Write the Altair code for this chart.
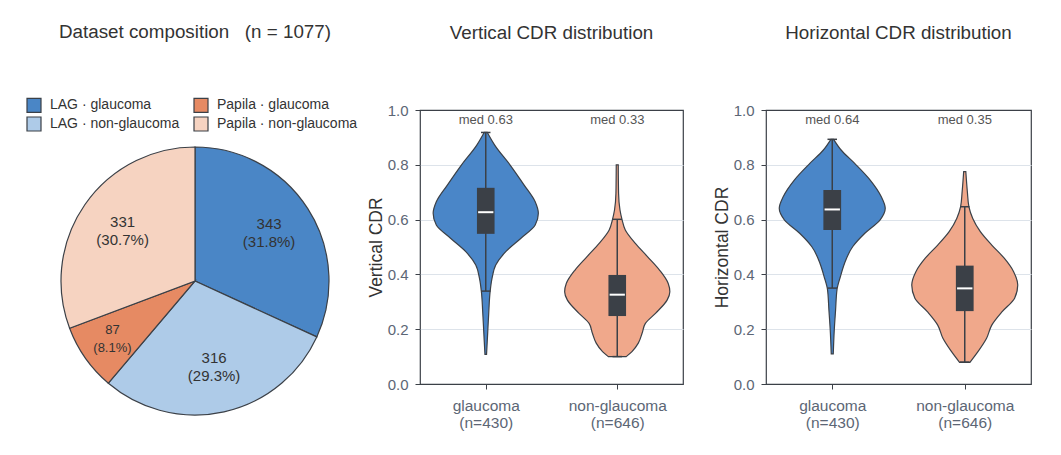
import json
import altair as alt
import pandas as pd

# ---------------- data ----------------
pie_source = ["LAG", "LAG", "Papila", "Papila"]
pie_class = ["glaucoma", "non-glaucoma", "glaucoma", "non-glaucoma"]
pie_count = [343, 316, 87, 331]
pie_colors = ["#4a86c6", "#aecbe8", "#e68a63", "#f6d3c1"]

groups = ["glaucoma", "non-glaucoma"]
group_n = [430, 646]
group_colors = ["#4a86c8", "#f0a88b"]

# violin outlines: CDR value -> relative density (1 = widest point)
vcdr_glau_v = [0.918, 0.872, 0.80, 0.726, 0.665, 0.623, 0.58, 0.532, 0.483, 0.434, 0.386, 0.337, 0.264, 0.191, 0.108]
vcdr_glau_d = [0.03, 0.17, 0.46, 0.73, 0.94, 1.0, 0.94, 0.67, 0.38, 0.19, 0.12, 0.083, 0.058, 0.038, 0.015]
vcdr_non_v = [0.80, 0.696, 0.635, 0.601, 0.562, 0.513, 0.465, 0.416, 0.367, 0.337, 0.307, 0.258, 0.221, 0.185, 0.149, 0.118, 0.10]
vcdr_non_d = [0.019, 0.025, 0.052, 0.09, 0.153, 0.344, 0.574, 0.803, 0.969, 1.0, 0.95, 0.727, 0.535, 0.472, 0.40, 0.28, 0.17]
hcdr_glau_v = [0.893, 0.854, 0.805, 0.745, 0.684, 0.641, 0.599, 0.55, 0.501, 0.44, 0.392, 0.345, 0.27, 0.197, 0.11]
hcdr_glau_d = [0.025, 0.167, 0.423, 0.712, 0.923, 1.0, 0.904, 0.615, 0.385, 0.231, 0.154, 0.09, 0.063, 0.038, 0.019]
hcdr_non_v = [0.775, 0.702, 0.647, 0.604, 0.556, 0.507, 0.459, 0.41, 0.361, 0.313, 0.264, 0.215, 0.167, 0.118, 0.079]
hcdr_non_d = [0.02, 0.049, 0.078, 0.151, 0.294, 0.51, 0.745, 0.922, 1.0, 0.941, 0.706, 0.51, 0.412, 0.249, 0.098]

# box statistics: [lower whisker, q1, median, q3, upper whisker] per group
vcdr_box = [[0.339, 0.548, 0.627, 0.716, 0.918], [0.10, 0.248, 0.326, 0.398, 0.601]]
hcdr_box = [[0.35, 0.562, 0.637, 0.708, 0.893], [0.08, 0.266, 0.349, 0.432, 0.647]]

# ---------------- style ----------------
FONT = "Liberation Sans"
DARK = "#3b4047"
TEXT = "#333333"
TICKLAB = "#5c6675"
GRID = "#dde3ea"

# ---------------- pie ----------------
keys = [f"{s} \u00b7 {c}" for s, c in zip(pie_source, pie_class)]
pie_df = pd.DataFrame({"key": keys, "count": pie_count, "idx": list(range(len(keys)))})
total = sum(pie_count)

pie_base = alt.Chart(pie_df).transform_joinaggregate(
    total="sum(count)"
).transform_stack(
    stack="count", as_=["s0", "s1"], groupby=[], sort=[alt.SortField("idx", order="ascending")]
).transform_calculate(
    mid="(datum.s0 + datum.s1) / 2",
    label="datum.count + '\\n(' + format(datum.count / datum.total * 100, '.1f') + '%)'",
    lr="datum.count < 100 ? 101 : 88",
    fs="datum.count < 100 ? 13 : 15",
)

TS = alt.Scale(domain=[0, total])

arc = pie_base.mark_arc(stroke=DARK, strokeWidth=1.2, outerRadius=134).encode(
    theta=alt.Theta("s0:Q", scale=TS, stack=None),
    theta2="s1:Q",
    color=alt.Color(
        "key:N",
        scale=alt.Scale(domain=keys, range=pie_colors),
        legend=alt.Legend(
            title=None, orient="none", legendX=1, legendY=-13, columns=2,
            symbolType="square", symbolSize=196, symbolStrokeColor=DARK,
            symbolStrokeWidth=1.2, labelFontSize=14, labelColor=TEXT, labelFont=FONT,
            columnPadding=11, rowPadding=-1, labelOffset=8, padding=0,
        ),
    ),
    x=alt.value(170),
    y=alt.value(171),
)

pie_text = pie_base.mark_text(lineBreak="\n", lineHeight=18, dy=-9, color=TEXT, font=FONT, baseline="middle").encode(
    theta=alt.Theta("mid:Q", scale=TS, stack=None),
    radius=alt.Radius("lr:Q", scale=None),
    size=alt.Size("fs:Q", scale=None),
    text="label:N",
    x=alt.value(170),
    y=alt.value(171),
)

pie = alt.layer(arc, pie_text).properties(
    width=340, height=274,
    title=alt.TitleParams(f"Dataset composition\u00a0\u00a0\u00a0(n = {total})", offset=55),
)

# ---------------- violins ----------------
XS = alt.Scale(domain=[-0.5, 1.5], nice=False, zero=False)
YS = alt.Scale(domain=[0, 1], nice=False)

lab0 = json.dumps([groups[0], f"(n={group_n[0]})"])
lab1 = json.dumps([groups[1], f"(n={group_n[1]})"])
label_expr = f"datum.value < 0.5 ? {lab0} : {lab1}"

XAX = alt.Axis(
    values=[0, 1], labelExpr=label_expr, title=None, grid=False, domain=False,
    tickSize=5, tickColor=DARK, labelFontSize=15.5, labelColor=TICKLAB, labelFont=FONT,
    labelPadding=9, labelLineHeight=17,
)


def yax(title):
    return alt.Axis(
        values=[0, 0.2, 0.4, 0.6, 0.8, 1.0], format=".1f", title=title,
        grid=True, gridColor=GRID,
        gridOpacity={"condition": {"test": "datum.value < 0.01 || datum.value > 0.99", "value": 0}, "value": 1},
        domain=False, tickSize=5, tickColor=DARK, labelFontSize=15, labelColor=TICKLAB,
        labelFont=FONT, labelPadding=7, labelFlush=False, titleFontSize=17.5, titleColor=TEXT,
        titleFontWeight="normal", titleFont=FONT, titlePadding=2,
    )


def violin_panel(title, ytitle, prof, box, width):
    rows = []
    for gi, (vs, ds) in enumerate(prof):
        for v, d in zip(vs, ds):
            rows.append({"group": groups[gi], "gi": gi, "v": v, "d": d})
    prof_df = pd.DataFrame(rows)
    stats_df = pd.DataFrame([
        {"group": groups[gi], "gi": gi, "lo": b[0], "q1": b[1], "med": b[2], "q3": b[3], "hi": b[4]}
        for gi, b in enumerate(box)
    ])
    YA = yax(ytitle)

    area = alt.Chart(prof_df).transform_calculate(
        xlo="datum.gi - 0.4 * datum.d", xhi="datum.gi + 0.4 * datum.d"
    ).mark_area(orient="horizontal", interpolate="monotone", stroke=DARK, strokeWidth=1.2, opacity=1).encode(
        y=alt.Y("v:Q", scale=YS, axis=YA),
        x=alt.X("xlo:Q", scale=XS, axis=XAX, stack=None),
        x2="xhi:Q",
        color=alt.Color("group:N", scale=alt.Scale(domain=groups, range=group_colors), legend=None),
    )

    sb = alt.Chart(stats_df).transform_calculate(
        bl="datum.gi - 0.067", br="datum.gi + 0.067",
        cl="datum.gi - 0.036", cr="datum.gi + 0.036",
        ml="datum.gi - 0.058", mr="datum.gi + 0.058",
        mlab="'med ' + format(datum.med, '.2f')",
    )
    whisk = sb.mark_rule(color=DARK, strokeWidth=1.5).encode(
        x=alt.X("gi:Q", scale=XS, axis=XAX), y=alt.Y("lo:Q", scale=YS, axis=YA), y2="hi:Q"
    )
    cap_lo = sb.mark_rule(color=DARK, strokeWidth=1.5).encode(
        x=alt.X("cl:Q", scale=XS, axis=XAX), x2="cr:Q", y=alt.Y("lo:Q", scale=YS, axis=YA)
    )
    cap_hi = sb.mark_rule(color=DARK, strokeWidth=1.5).encode(
        x=alt.X("cl:Q", scale=XS, axis=XAX), x2="cr:Q", y=alt.Y("hi:Q", scale=YS, axis=YA)
    )
    boxr = sb.mark_rect(color=DARK).encode(
        x=alt.X("bl:Q", scale=XS, axis=XAX), x2="br:Q",
        y=alt.Y("q1:Q", scale=YS, axis=YA), y2="q3:Q",
    )
    medr = sb.mark_rule(color="white", strokeWidth=2).encode(
        x=alt.X("ml:Q", scale=XS, axis=XAX), x2="mr:Q", y=alt.Y("med:Q", scale=YS, axis=YA)
    )
    medt = sb.mark_text(fontSize=13, color="#555555", font=FONT, baseline="middle").encode(
        x=alt.X("gi:Q", scale=XS, axis=XAX), y=alt.value(10), text="mlab:N"
    )
    return alt.layer(area, whisk, cap_lo, cap_hi, boxr, medr, medt).properties(
        width=width, height=274,
        title=alt.TitleParams(title, offset=60),
        view=alt.ViewBackground(stroke=DARK, strokeWidth=1.2),
    )


vert = violin_panel("Vertical CDR distribution", "Vertical CDR",
                    [(vcdr_glau_v, vcdr_glau_d), (vcdr_non_v, vcdr_non_d)], vcdr_box, 263)
horiz = violin_panel("Horizontal CDR distribution", "Horizontal CDR",
                     [(hcdr_glau_v, hcdr_glau_d), (hcdr_non_v, hcdr_non_d)], hcdr_box, 265)

chart = alt.hconcat(
    pie,
    alt.hconcat(vert, horiz, spacing=28).resolve_scale(color="independent"),
    spacing=0,
).resolve_scale(color="independent").properties(
    padding={"left": 24, "top": 22, "right": 10, "bottom": 5},
    background="white",
).configure_view(
    stroke="transparent"
).configure_title(
    fontSize=18.8, font=FONT, fontWeight="normal", color=TEXT, anchor="middle"
)

chart.save("out.html", embed_options={"renderer": "svg", "actions": False})
